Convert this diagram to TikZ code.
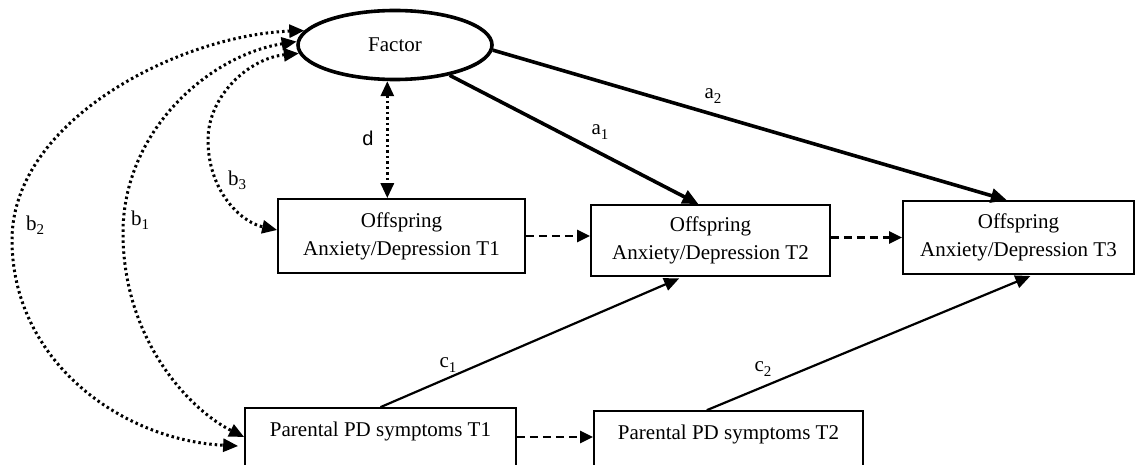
\documentclass[tikz,border=0pt]{standalone}
\usepackage{fontspec}
\setmainfont{Liberation Serif}
\newfontfamily\lsans{Liberation Sans}
\usetikzlibrary{arrows.meta,calc,shapes.geometric}
\newcommand\lbl[2]{#1\raisebox{-0.2em}{\fontsize{15}{15}\selectfont #2}}
\begin{document}
\begin{tikzpicture}[x=1pt,y=-1pt,
  box/.style={draw, line width=1.7pt, rectangle, align=center,
    font=\fontsize{21}{28}\selectfont, inner sep=0pt},
  latent/.style={draw, ellipse, line width=3.6pt, inner sep=0pt,
    font=\fontsize{21}{24}\selectfont},
  thickarr/.style={line width=3.6pt, -{Triangle[length=16pt,width=14pt]}},
  thinarr/.style={line width=2.2pt, -{Triangle[length=15pt,width=13pt]}},
  dasharr/.style={line width=2.6pt, dash pattern=on 8pt off 5pt, -{Triangle[length=13pt,width=12pt]}},
  dotarr/.style={line width=3pt, dash pattern=on 2.5pt off 3pt,
    {Triangle[length=15pt,width=13pt]}-{Triangle[length=15pt,width=13pt]}},
  lab/.style={font=\fontsize{21}{24}\selectfont, inner sep=0pt}]
\clip (0,0) rectangle (1135,465);
\fill[white] (0,0) rectangle (1135,465);

% nodes
\node[latent, minimum width=194pt, minimum height=69pt] (fac) at (395,45) {Factor};
\node[box, minimum width=247pt, minimum height=74pt] (t1) at (401.5,236) {Offspring\\Anxiety/Depression T1};
\node[box, minimum width=239pt, minimum height=71pt] (t2) at (710.5,240.5) {Offspring\\Anxiety/Depression T2};
\node[box, minimum width=231pt, minimum height=73pt] (t3) at (1018.5,237.5) {Offspring\\Anxiety/Depression T3};
\node[box, minimum width=271pt, minimum height=76pt, text height=15pt, text depth=35pt] (p1) at (380.5,446) {Parental PD symptoms T1};
\node[box, minimum width=269pt, minimum height=76pt, text height=15pt, text depth=35pt] (p2) at (728.5,449) {Parental PD symptoms T2};

% factor loadings
\draw[thickarr] (fac.-29) -- ($(t2.north west)!0.45!(t2.north east)$);
\draw[thickarr] (fac.-3) -- ($(t3.north west)!0.45!(t3.north east)$);

% parental effects
\draw[thinarr, shorten >=4pt] (p1.north) -- ($(t2.south west)!0.385!(t2.south east)$);
\draw[thinarr, shorten >=3pt] ($(p2.north west)!0.42!(p2.north east)$) -- ($(t3.south west)!0.563!(t3.south east)$);

% autoregressive paths
\draw[dasharr] (t1.east) -- (t1.east -| t2.west);
\draw[dasharr] (t2.east |- t3.west) -- (t3.west);
\draw[dasharr] ([yshift=9pt]p1.east) -- ([yshift=9pt]p1.east -| p2.west);

% correlations
\draw[dotarr] (fac.258.5) -- (fac.258.5 |- t1.north);
\draw[dotarr] (fac.185) .. controls (250,58) and (208,95) .. (208,140)
  .. controls (208,190) and (240,222) .. ([yshift=6pt]t1.west);
\draw[dotarr] (fac.178) .. controls (210,55) and (123,130) .. (123,233)
  .. controls (123,340) and (190,410) .. ([yshift=9pt]p1.west);
\draw[dotarr] (fac.171) .. controls (180,35) and (12,120) .. (12,240)
  .. controls (12,360) and (120,440) .. ($(p1.west)+(-6,0)$);

% labels
\node[lab] (la1) at (600,132) {\lbl{a}{1}};
\node[lab] (la2) at (713,96) {\lbl{a}{2}};
\node[lab] (lc1) at (448,365) {\lbl{c}{1}};
\node[lab] (lc2) at (763,369) {\lbl{c}{2}};
\node[lab] (lb3) at (237,180) {\lbl{b}{3}};
\node[lab] (lb1) at (140,220) {\lbl{b}{1}};
\node[lab] (lb2) at (35,225) {\lbl{b}{2}};
\node[font=\lsans\fontsize{20}{20}\selectfont, inner sep=0pt] (ld) at (368,138) {d};
\end{tikzpicture}
\end{document}
